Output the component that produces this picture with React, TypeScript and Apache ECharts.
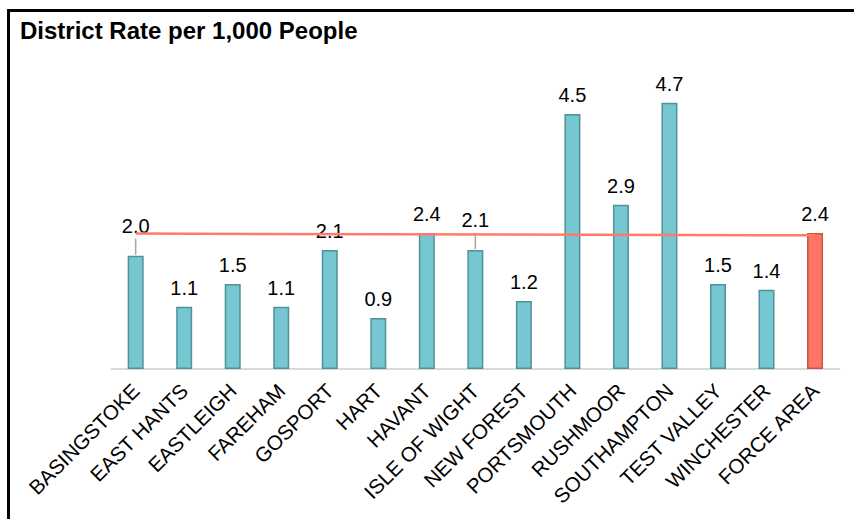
import React, { useEffect, useRef } from "react";
import * as echarts from "echarts";

const categories = [
  "BASINGSTOKE",
  "EAST HANTS",
  "EASTLEIGH",
  "FAREHAM",
  "GOSPORT",
  "HART",
  "HAVANT",
  "ISLE OF WIGHT",
  "NEW FOREST",
  "PORTSMOUTH",
  "RUSHMOOR",
  "SOUTHAMPTON",
  "TEST VALLEY",
  "WINCHESTER",
  "FORCE AREA",
];
const rates = [2.0, 1.1, 1.5, 1.1, 2.1, 0.9, 2.4, 2.1, 1.2, 4.5, 2.9, 4.7, 1.5, 1.4, 2.4];
const forceAreaLine = [2.39, null, null, null, null, null, null, null, null, null, null, null, null, null, 2.36];
const raisedLabels = [0, 7];
const highlightIndex = 14;
const titleText = "District Rate per 1,000 People";

const FONT = "'Liberation Sans', Arial, sans-serif";
const TEAL = "#76C7D1";
const TEAL_BORDER = "#4E929A";
const RED = "#FF7562";
const RED_BORDER = "#C2584A";

export default function App() {
  const ref = useRef<HTMLDivElement>(null);
  useEffect(() => {
    if (!ref.current) return;
    const chart = echarts.init(ref.current, null, { renderer: "svg" });
    const barData = rates.map((v, i) => {
      const item: any = { value: v };
      if (i === highlightIndex) {
        item.itemStyle = { color: RED, borderColor: RED_BORDER };
      }
      if (raisedLabels.includes(i)) {
        item.label = { offset: [0, -11] };
      }
      return item;
    });
    chart.setOption({
      animation: false,
      backgroundColor: "#ffffff",
      textStyle: { fontFamily: FONT },
      graphic: [
        {
          type: "rect",
          shape: { x: 8.5, y: 10.5, width: 900, height: 600 },
          style: { fill: "none", stroke: "#000", lineWidth: 3 },
          silent: true,
        },
        {
          type: "text",
          x: 20,
          y: 30,
          style: {
            text: titleText,
            fill: "#000",
            font: `bold 24px ${FONT}`,
            textVerticalAlign: "middle",
          },
        },
      ],
      grid: { left: 111.4, right: 14.7, top: 85.7, bottom: 150 },
      xAxis: {
        type: "category",
        data: categories,
        axisLine: { show: true, lineStyle: { color: "#D9D9D9", width: 2 } },
        axisTick: { show: false },
        axisLabel: {
          rotate: 45,
          interval: 0,
          margin: 18,
          color: "#000",
          fontSize: 20.5,
          fontFamily: FONT,
        },
      },
      yAxis: {
        type: "value",
        min: 0,
        max: 5,
        show: false,
        splitLine: { show: false },
      },
      series: [
        {
          type: "bar",
          data: barData,
          barWidth: 16,
          itemStyle: { color: TEAL, borderColor: TEAL_BORDER, borderWidth: 1.5 },
          label: {
            show: true,
            position: "top",
            distance: 9,
            color: "#000",
            fontSize: 20,
            fontFamily: FONT,
            formatter: (p: any) => Number(p.value).toFixed(1),
          },
          z: 2,
        },
        {
          type: "custom",
          data: raisedLabels.map((i) => [i, rates[i]]),
          renderItem: (params: any, api: any) => {
            const p = api.coord([api.value(0), api.value(1)]);
            return {
              type: "line",
              shape: { x1: p[0], y1: p[1] - 1, x2: p[0], y2: p[1] - 17 },
              style: { stroke: "#A6A6A6", lineWidth: 1.5 },
            };
          },
          z: 3,
          silent: true,
        },
        {
          type: "line",
          data: forceAreaLine,
          connectNulls: true,
          symbol: "none",
          lineStyle: { color: "#FF7B67", width: 2.5 },
          z: 4,
          silent: true,
        },
      ],
    });
    return () => chart.dispose();
  }, []);
  return (
    <div
      ref={ref}
      style={{ position: "absolute", left: 0, top: 0, width: 854, height: 519 }}
    />
  );
}
